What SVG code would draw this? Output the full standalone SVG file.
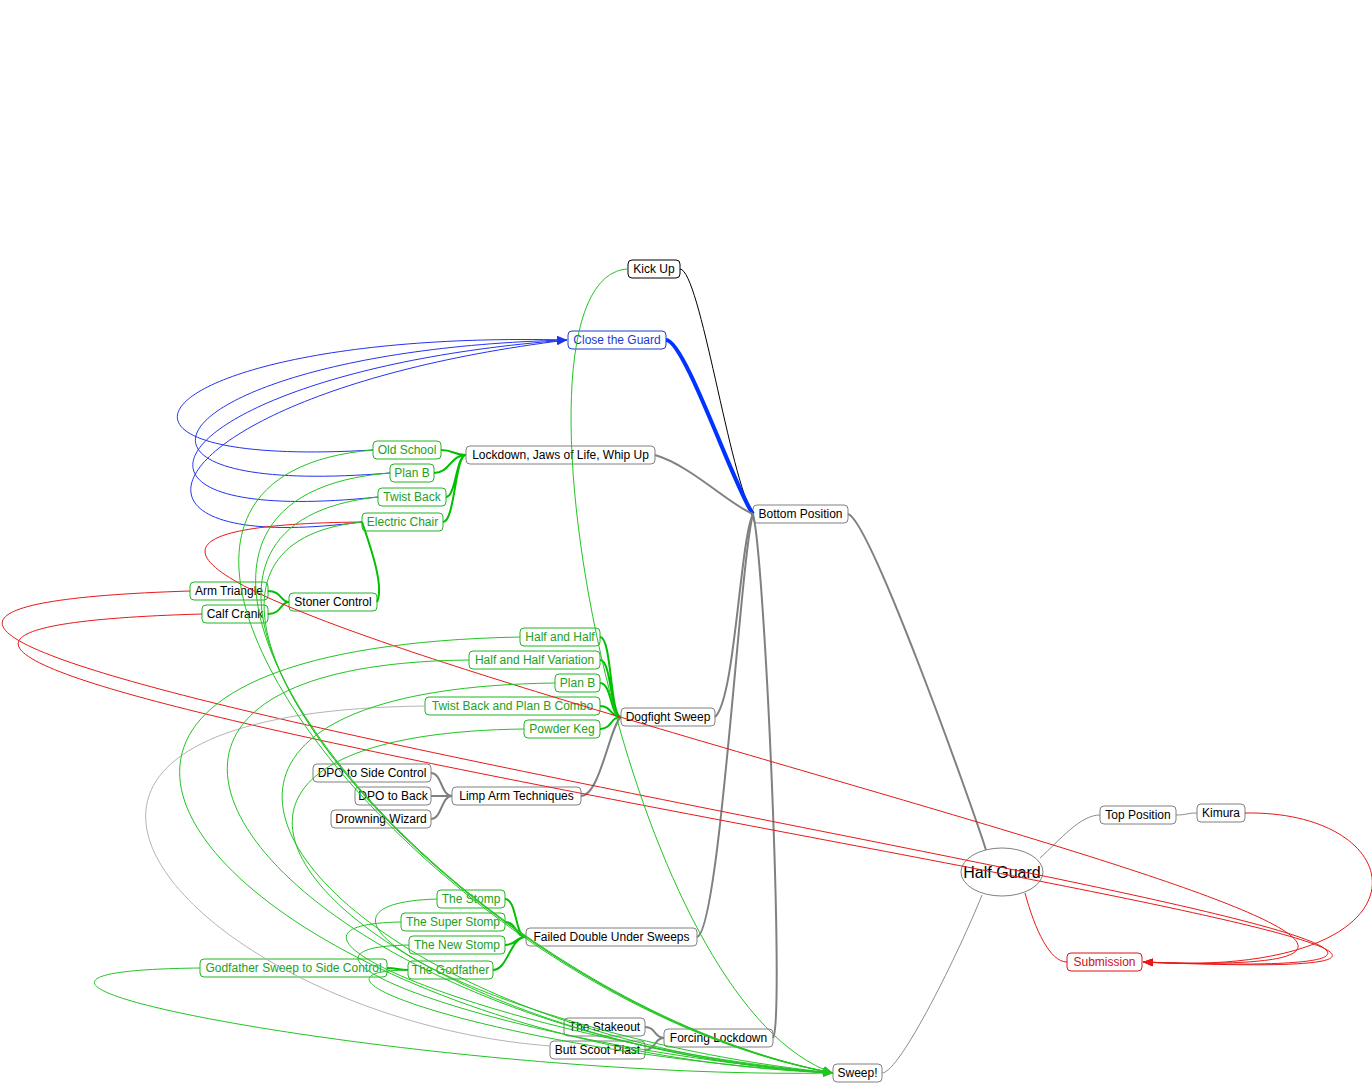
<svg xmlns="http://www.w3.org/2000/svg" width="1372" height="1083" viewBox="0 0 1372 1083">
<style>
text{font-family:"Liberation Sans",Arial,sans-serif;font-size:12px;text-anchor:middle}
.box{fill:#fff;stroke:#808080;stroke-width:1}
.g .box{stroke:#22b422}
.g text{fill:#22a022}
.gb .box{stroke:#22b422}
.b .box{stroke:#1a3cd0}
.b text{fill:#1a3cd0}
.r .box{stroke:#e01010}
.r text{fill:#d01010}
.k .box{stroke:#000}
.e{fill:none}
.eg{stroke:#808080;stroke-width:2}
.eg1{stroke:#8c8c8c;stroke-width:1}
.egr{stroke:#00c000;stroke-width:2}
.lg{stroke:#22c422;stroke-width:1}
.lb{stroke:#2233ee;stroke-width:1}
.lr{stroke:#e81818;stroke-width:1}
.lgray{stroke:#b4b4b4;stroke-width:1}
</style>
<defs>
<marker id="ab" markerUnits="userSpaceOnUse" viewBox="0 0 10 8" refX="10" refY="4" markerWidth="10" markerHeight="8" orient="auto"><path d="M0,0L10,4L0,8z" fill="#2233ee"/></marker>
<marker id="ar" markerUnits="userSpaceOnUse" viewBox="0 0 10 8" refX="10" refY="4" markerWidth="10" markerHeight="8" orient="auto"><path d="M0,0L10,4L0,8z" fill="#e81818"/></marker>
<marker id="ag" markerUnits="userSpaceOnUse" viewBox="0 0 10 8" refX="10" refY="4" markerWidth="10" markerHeight="8" orient="auto"><path d="M0,0L10,4L0,8z" fill="#22c422"/></marker>
</defs>
<rect width="1372" height="1083" fill="#fff"/>
<g id="nodes">
<g id="kickup" class="k"><rect class="box" x="628" y="260" width="52" height="18" rx="4"/><text x="654" y="273">Kick Up</text></g>
<g id="closeguard" class="b"><rect class="box" x="568" y="331" width="98" height="18" rx="4"/><text x="617" y="344">Close the Guard</text></g>
<g id="lockdown"><rect class="box" x="466" y="446" width="189" height="18" rx="4"/><text x="560.5" y="459">Lockdown, Jaws of Life, Whip Up</text></g>
<g id="oldschool" class="g"><rect class="box" x="373" y="441" width="68" height="18" rx="4"/><text x="407" y="454">Old School</text></g>
<g id="planb1" class="g"><rect class="box" x="390" y="464" width="44" height="18" rx="4"/><text x="412" y="477">Plan B</text></g>
<g id="twistback" class="g"><rect class="box" x="378" y="488" width="68" height="18" rx="4"/><text x="412" y="501">Twist Back</text></g>
<g id="electricchair" class="g"><rect class="box" x="362" y="513" width="81" height="18" rx="4"/><text x="402.5" y="526">Electric Chair</text></g>
<g id="bottom"><rect class="box" x="753" y="505" width="95" height="18" rx="4"/><text x="800.5" y="518">Bottom Position</text></g>
<g id="armtriangle" class="gb"><rect class="box" x="190" y="582" width="78" height="18" rx="4"/><text x="229" y="595">Arm Triangle</text></g>
<g id="calfcrank" class="gb"><rect class="box" x="202" y="605" width="66" height="18" rx="4"/><text x="235" y="618">Calf Crank</text></g>
<g id="stoner" class="gb"><rect class="box" x="289" y="593" width="88" height="18" rx="4"/><text x="333" y="606">Stoner Control</text></g>
<g id="halfhalf" class="g"><rect class="box" x="520" y="628" width="80" height="18" rx="4"/><text x="560" y="641">Half and Half</text></g>
<g id="halfhalfvar" class="g"><rect class="box" x="469" y="651" width="131" height="18" rx="4"/><text x="534.5" y="664">Half and Half Variation</text></g>
<g id="planb2" class="g"><rect class="box" x="555" y="674" width="45" height="18" rx="4"/><text x="577.5" y="687">Plan B</text></g>
<g id="combo" class="g"><rect class="box" x="425" y="697" width="175" height="18" rx="4"/><text x="512.5" y="710">Twist Back and Plan B Combo</text></g>
<g id="powderkeg" class="g"><rect class="box" x="524" y="720" width="76" height="18" rx="4"/><text x="562" y="733">Powder Keg</text></g>
<g id="dogfight"><rect class="box" x="621" y="708" width="94" height="18" rx="4"/><text x="668" y="721">Dogfight Sweep</text></g>
<g id="dposide"><rect class="box" x="313" y="764" width="118" height="18" rx="4"/><text x="372" y="777">DPO to Side Control</text></g>
<g id="dpoback"><rect class="box" x="355" y="787" width="76" height="18" rx="4"/><text x="393" y="800">DPO to Back</text></g>
<g id="drowning"><rect class="box" x="331" y="810" width="100" height="18" rx="4"/><text x="381" y="823">Drowning Wizard</text></g>
<g id="limparm"><rect class="box" x="452" y="787" width="129" height="18" rx="4"/><text x="516.5" y="800">Limp Arm Techniques</text></g>
<g id="stomp" class="g"><rect class="box" x="437" y="890" width="68" height="18" rx="4"/><text x="471" y="903">The Stomp</text></g>
<g id="superstomp" class="g"><rect class="box" x="401" y="913" width="104" height="18" rx="4"/><text x="453" y="926">The Super Stomp</text></g>
<g id="newstomp" class="g"><rect class="box" x="409" y="936" width="96" height="18" rx="4"/><text x="457" y="949">The New Stomp</text></g>
<g id="godfather" class="g"><rect class="box" x="408" y="961" width="85" height="18" rx="4"/><text x="450.5" y="974">The Godfather</text></g>
<g id="gssc" class="g"><rect class="box" x="200" y="959" width="187" height="18" rx="4"/><text x="293.5" y="972">Godfather Sweep to Side Control</text></g>
<g id="failed"><rect class="box" x="526" y="928" width="171" height="18" rx="4"/><text x="611.5" y="941">Failed Double Under Sweeps</text></g>
<g id="stakeout"><rect class="box" x="564" y="1018" width="81" height="18" rx="4"/><text x="604.5" y="1031">The Stakeout</text></g>
<g id="buttscoot"><rect class="box" x="550" y="1041" width="95" height="18" rx="4"/><text x="597.5" y="1054">Butt Scoot Plast</text></g>
<g id="forcing"><rect class="box" x="664" y="1029" width="109" height="18" rx="4"/><text x="718.5" y="1042">Forcing Lockdown</text></g>
<g id="sweep"><rect class="box" x="833" y="1064" width="49" height="18" rx="4"/><text x="857.5" y="1077">Sweep!</text></g>
<g id="halfguard"><ellipse class="box" cx="1002" cy="872" rx="41" ry="24"/><text x="1002" y="878" style="font-size:16px">Half Guard</text></g>
<g id="topposition"><rect class="box" x="1100" y="806" width="76" height="18" rx="4"/><text x="1138" y="819">Top Position</text></g>
<g id="kimura"><rect class="box" x="1197" y="804" width="48" height="18" rx="4"/><text x="1221" y="817">Kimura</text></g>
<g id="submission" class="r"><rect class="box" x="1067" y="953" width="75" height="18" rx="4"/><text x="1104.5" y="966">Submission</text></g>
</g>
<g id="connectors" class="e">
<path class="e" stroke="#000" stroke-width="1" d="M680,269 C700,270 730,480 753,514"/>
<path class="e" stroke="#0033ff" stroke-width="4" d="M666,340 C685,340 735,490 753,514"/>
<path class="e eg" d="M655,455 C690,465 730,505 753,514"/>
<path class="e eg" d="M715,717 C735,700 740,540 753,514"/>
<path class="e eg" d="M697,937 C720,930 740,560 753,514"/>
<path class="e eg" d="M773,1038 C785,1020 765,560 753,514"/>
<path class="e eg" d="M581,796 C600,796 610,725 621,717"/>
<path class="e eg" d="M848,514 C870,520 970,800 986,850"/>
<path class="e eg1" d="M1040,858 C1060,840 1080,815 1100,815"/>
<path class="e eg1" d="M1176,815 C1187,815 1187,813 1197,813"/>
<path class="e eg1" d="M982,895 C960,950 900,1073 882,1073"/>
<path class="e lr" d="M1025,893 C1035,930 1050,962 1067,962"/>
<path class="e egr" d="M466,455 C453,455 454,450 441,450 M466,455 C450,455 450,473 434,473 M466,455 C456,455 456,497 446,497 M466,455 C455,455 455,522 443,522"/>
<path class="e egr" d="M362,522 C368,540 385,585 377,602"/>
<path class="e egr" d="M289,602 C280,602 282,591 268,591 M289,602 C280,602 282,614 268,614"/>
<path class="e egr" d="M621,717 C610,717 612,637 600,637 M621,717 C610,717 612,660 600,660 M621,717 C610,717 612,683 600,683 M621,717 C610,717 612,706 600,706 M621,717 C610,717 612,729 600,729"/>
<path class="e eg" d="M452,796 C441,796 442,773 431,773 M452,796 L431,796 M452,796 C441,796 442,819 431,819"/>
<path class="e egr" d="M526,937 C515,937 517,899 505,899 M526,937 C515,937 517,922 505,922 M526,937 C515,937 517,945 505,945 M526,937 C510,937 508,970 493,970"/>
<path class="e egr" d="M408,970 C398,970 397,968 387,968"/>
<path class="e eg" d="M664,1038 C654,1038 656,1027 645,1027 M664,1038 C654,1038 656,1050 645,1050"/>
<path class="e lb" marker-end="url(#ab)" d="M373,450 C40,470 150,330 567,340"/>
<path class="e lb" marker-end="url(#ab)" d="M390,473 C60,500 170,350 567,340"/>
<path class="e lb" marker-end="url(#ab)" d="M378,497 C60,530 170,370 567,340"/>
<path class="e lb" marker-end="url(#ab)" d="M362,522 C70,560 160,390 567,340"/>
<path class="e lr" marker-end="url(#ar)" d="M190,591 C-725,620 2050,995 1143,962"/>
<path class="e lr" marker-end="url(#ar)" d="M202,614 C-700,640 2060,1000 1143,962"/>
<path class="e lr" marker-end="url(#ar)" d="M362,522 C-400,530 1900,990 1143,962"/>
<path class="e lr" marker-end="url(#ar)" d="M1245,813 C1420,810 1440,980 1143,962"/>
<path class="e lgray" d="M425,706 C-90,712 200,1020 551,1046"/>
<path class="e lg" marker-end="url(#ag)" d="M628,269 C490,275 620,1000 833,1073"/>
<path class="e lg" marker-end="url(#ag)" d="M373,450 C20,480 430,1000 833,1073"/>
<path class="e lg" marker-end="url(#ag)" d="M390,473 C40,500 440,1000 833,1073"/>
<path class="e lg" marker-end="url(#ag)" d="M378,497 C60,530 450,1000 833,1073"/>
<path class="e lg" marker-end="url(#ag)" d="M362,522 C80,550 460,1000 833,1073"/>
<path class="e lg" marker-end="url(#ag)" d="M520,637 C-130,650 250,1050 833,1073"/>
<path class="e lg" marker-end="url(#ag)" d="M469,660 C-20,665 300,1040 833,1073"/>
<path class="e lg" marker-end="url(#ag)" d="M555,683 C30,690 340,1040 833,1073"/>
<path class="e lg" marker-end="url(#ag)" d="M524,729 C60,735 360,1045 833,1073"/>
<path class="e lg" marker-end="url(#ag)" d="M437,899 C250,905 520,1040 833,1073"/>
<path class="e lg" marker-end="url(#ag)" d="M401,922 C220,925 520,1045 833,1073"/>
<path class="e lg" marker-end="url(#ag)" d="M409,945 C240,948 520,1050 833,1073"/>
<path class="e lg" marker-end="url(#ag)" d="M408,970 C270,972 520,1055 833,1073"/>
<path class="e lg" marker-end="url(#ag)" d="M200,968 C-150,972 450,1080 833,1073"/>
</g>
</svg>
